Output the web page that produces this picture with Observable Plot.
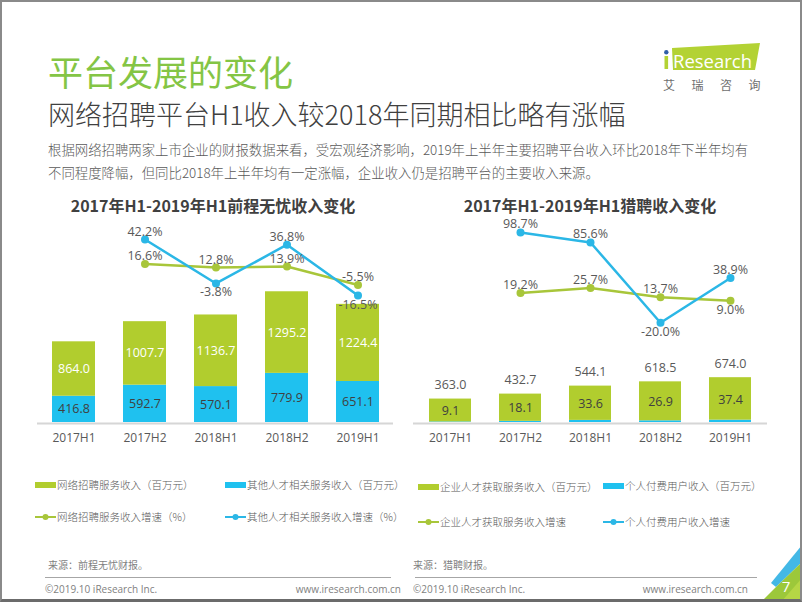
<!DOCTYPE html>
<html><head><meta charset="utf-8">
<script src="https://cdn.jsdelivr.net/npm/d3@7"></script>
<script src="https://cdn.jsdelivr.net/npm/@observablehq/plot@0.6"></script>
<style>
html,body{margin:0;padding:0;background:#fff;overflow:hidden;}
#page{position:relative;width:802px;height:602px;overflow:hidden;font-family:"Noto Sans CJK SC","Open Sans",sans-serif;background:#fff;}
.abs{position:absolute;white-space:nowrap;}
#frame{position:absolute;left:0;top:0;width:802px;height:602px;box-sizing:border-box;border:2px solid #8a8a8a;border-bottom:3px solid #6b6b6b;pointer-events:none;}
.lgt{position:absolute;white-space:nowrap;font-size:10.5px;line-height:12px;color:#595959;font-weight:300;}
.sw{position:absolute;width:21px;height:6px;}
.ft{position:absolute;white-space:nowrap;font-size:10px;line-height:12px;color:#7f7f7f;font-family:"Open Sans","Noto Sans CJK SC",sans-serif;}
</style></head>
<body>
<div id="page">
  <div class="abs" style="left:48px;top:53px;font-size:35px;line-height:35px;color:#84c545;">平台发展的变化</div>
  <div class="abs" style="left:48px;top:100px;font-size:27px;line-height:28px;color:#404040;font-weight:300;">网络招聘平台H1收入较2018年同期相比略有涨幅</div>
  <div class="abs" style="left:48px;top:138px;font-size:13.4px;line-height:23px;color:#595959;font-weight:300;">根据网络招聘两家上市企业的财报数据来看，受宏观经济影响，2019年上半年主要招聘平台收入环比2018年下半年均有<br>不同程度降幅，但同比2018年上半年均有一定涨幅，企业收入仍是招聘平台的主要收入来源。</div>

  <svg class="abs" style="left:640px;top:30px;" width="150" height="70" viewBox="640 30 150 70">
    <polygon points="672,48 760,43 755,70 673,70" fill="#b3d234"/>
    <rect x="664.5" y="56" width="3.6" height="13" fill="#b3d234"/>
    <circle cx="666.3" cy="52.3" r="2.2" fill="#2f5ea8"/>
    <text x="673" y="67.5" font-family="Open Sans" font-size="18.5" fill="#fff">Research</text>
    <text x="663" y="89.5" font-family="Noto Sans CJK SC" font-size="12" fill="#6e6e6e" letter-spacing="16.5">艾瑞咨询</text>
  </svg>

  <div class="abs" style="left:20px;width:386px;top:194px;text-align:center;font-size:16px;line-height:22px;font-weight:bold;color:#404040;">2017年H1-2019年H1前程无忧收入变化</div>
  <div class="abs" style="left:400px;width:380px;top:194px;text-align:center;font-size:16px;line-height:22px;font-weight:bold;color:#404040;">2017年H1-2019年H1猎聘收入变化</div>

  <div id="leftBars" class="abs" style="left:20px;top:215px;"></div>
  <div id="leftLines" class="abs" style="left:20px;top:215px;"></div>
  <div id="rightBars" class="abs" style="left:400px;top:215px;"></div>
  <div id="rightLines" class="abs" style="left:400px;top:215px;"></div>

  <div id="legend"></div>

  <div class="ft" style="left:48px;top:559px;font-family:'Noto Sans CJK SC';">来源：前程无忧财报。</div>
  <div class="ft" style="left:413px;top:559px;font-family:'Noto Sans CJK SC';">来源：猎聘财报。</div>
  <div class="abs" style="left:45px;top:577px;width:346px;height:1px;background:#a6a6a6;"></div>
  <div class="abs" style="left:415px;top:577px;width:342px;height:1px;background:#a6a6a6;"></div>
  <div class="ft" style="left:45px;top:583px;">©2019.10 iResearch Inc.</div>
  <div class="ft" style="left:413px;top:583px;">©2019.10 iResearch Inc.</div>
  <div class="ft" style="left:260px;width:141px;text-align:right;top:583px;">www.iresearch.com.cn</div>
  <div class="ft" style="left:607px;width:141px;text-align:right;top:583px;">www.iresearch.com.cn</div>

  <svg class="abs" style="left:740px;top:530px;" width="62" height="72" viewBox="740 530 62 72">
    <polygon points="771,583 802,545 802,562 776,587" fill="#43b8e6"/>
    <polygon points="761,602 776,587 802,562 802,602" fill="#9cc83a"/>
    <polygon points="781,602 802,578 802,602" fill="#b5d645"/>
    <text x="786" y="592" font-family="Open Sans" font-size="15" fill="#fff" text-anchor="middle">7</text>
  </svg>
  <div id="frame"></div>
</div>
<script>
// ---------- data ----------
const periods = ["2017H1", "2017H2", "2018H1", "2018H2", "2019H1"];
// 前程无忧
const qcwyOnline = [864.0, 1007.7, 1136.7, 1295.2, 1224.4];      // 网络招聘服务收入（百万元）
const qcwyOther = [416.8, 592.7, 570.1, 779.9, 651.1];            // 其他人才相关服务收入（百万元）
const qcwyOnlineGrowth = [null, 16.6, 12.8, 13.9, -5.5];          // 网络招聘服务收入增速（%）
const qcwyOtherGrowth = [null, 42.2, -3.8, 36.8, -16.5];          // 其他人才相关服务收入增速（%）
// 猎聘
const liepinEnterprise = [363.0, 432.7, 544.1, 618.5, 674.0];     // 企业人才获取服务收入（百万元）
const liepinPersonal = [9.1, 18.1, 33.6, 26.9, 37.4];             // 个人付费用户收入（百万元）
const liepinEnterpriseGrowth = [null, 19.2, 25.7, 13.7, 9.0];     // 企业人才获取服务收入增速
const liepinPersonalGrowth = [null, 98.7, 85.6, -20.0, 38.9];     // 个人付费用户收入增速

const legendLeft = ["网络招聘服务收入（百万元）", "其他人才相关服务收入（百万元）", "网络招聘服务收入增速（%）", "其他人才相关服务收入增速（%）"];
const legendRight = ["企业人才获取服务收入（百万元）", "个人付费用户收入（百万元）", "企业人才获取服务收入增速", "个人付费用户收入增速"];

// ---------- style ----------
const GREEN = "#b1cd2e", BLUE = "#1fc1ef";
const LGREEN = "#a8c63a", LBLUE = "#2bb7e6";
const FONT = "'Open Sans','Noto Sans CJK SC',sans-serif";
const W = 380, H = 237;

function barPlot(bottomVals, topVals, bottomName, topName, ml, mr, labelMode) {
  const rows = periods.flatMap((p, i) => [
    {period: p, series: bottomName, value: bottomVals[i]},
    {period: p, series: topName, value: topVals[i]}
  ]);
  const marks = [
    Plot.barY(rows, {x: "period", y: "value", fill: "series"}),
    Plot.ruleY([0], {stroke: "#d6d6d6", strokeWidth: 2, dy: 1}),
    Plot.axisX({tickSize: 0, tickPadding: 11, fontSize: 12, color: "#595959"})
  ];
  if (labelMode === "qcwy") {
    marks.push(Plot.text(periods.map((p, i) => ({period: p, y: bottomVals[i] + topVals[i] / 2, t: topVals[i].toFixed(1)})),
      {x: "period", y: "y", text: "t", fill: "#fff", fontSize: 12.5}));
    marks.push(Plot.text(periods.map((p, i) => ({period: p, y: bottomVals[i] / 2, t: bottomVals[i].toFixed(1)})),
      {x: "period", y: "y", text: "t", fill: "#404040", fontSize: 12.5}));
  } else {
    marks.push(Plot.text(periods.map((p, i) => ({period: p, y: (bottomVals[i] + topVals[i]) / 2, t: bottomVals[i].toFixed(1)})),
      {x: "period", y: "y", text: "t", fill: "#404040", fontSize: 12.5}));
    marks.push(Plot.text(periods.map((p, i) => ({period: p, y: bottomVals[i] + topVals[i], t: topVals[i].toFixed(1)})),
      {x: "period", y: "y", text: "t", fill: "#595959", fontSize: 12.5, dy: -14}));
  }
  return Plot.plot({
    width: W, height: H, marginTop: 18, marginBottom: 30, marginLeft: ml, marginRight: mr,
    style: {fontFamily: FONT, background: "transparent", overflow: "visible"},
    x: {type: "band", domain: periods, paddingInner: 0.395, paddingOuter: 0.2, label: null},
    y: {domain: [0, 3000], axis: null},
    color: {domain: [bottomName, topName], range: [BLUE, GREEN]},
    marks
  });
}

function linePlot(gGreen, gBlue, ml, mr, yDomain, mt, mb) {
  const mk = (vals, other, s) => periods.map((p, i) => ({
    period: p, series: s, v: vals[i],
    below: vals[i] != null && vals[i - 1] != null && vals[i] < other[i] && vals[i] < vals[i - 1]
  })).filter(d => d.v != null);
  const rows = [...mk(gGreen, gBlue, "g"), ...mk(gBlue, gGreen, "b")];
  const lbl = d => d.v.toFixed(1) + "%";
  return Plot.plot({
    width: W, height: H, marginTop: mt, marginBottom: mb, marginLeft: ml, marginRight: mr,
    style: {fontFamily: FONT, background: "transparent", overflow: "visible"},
    x: {type: "band", domain: periods, paddingInner: 0.395, paddingOuter: 0.2, axis: null},
    y: {domain: yDomain, axis: null},
    color: {domain: ["g", "b"], range: [LGREEN, LBLUE]},
    marks: [
      Plot.line(rows, {x: "period", y: "v", z: "series", stroke: "series", strokeWidth: 2.5}),
      Plot.dot(rows, {x: "period", y: "v", fill: "series", r: 4}),
      Plot.text(rows.filter(d => !d.below), {x: "period", y: "v", text: lbl, fill: "#595959", fontSize: 12.5, dy: -8}),
      Plot.text(rows.filter(d => d.below), {x: "period", y: "v", text: lbl, fill: "#595959", fontSize: 12.5, dy: 9})
    ]
  });
}

document.getElementById("leftBars").append(
  barPlot(qcwyOther, qcwyOnline, legendLeft[1], legendLeft[0], 17, 7, "qcwy"));
document.getElementById("leftLines").append(
  linePlot(qcwyOnlineGrowth, qcwyOtherGrowth, 17, 7, [-20, 50], 16.6, 153.6));
document.getElementById("rightBars").append(
  barPlot(liepinPersonal, liepinEnterprise, legendRight[1], legendRight[0], 13, 13, "liepin"));
document.getElementById("rightLines").append(
  linePlot(liepinEnterpriseGrowth, liepinPersonalGrowth, 13, 13, [-30, 110], 8.4, 122.1));

// ---------- legends ----------
const lg = document.getElementById("legend");
function addItem(text, color, x, cy, kind) {
  if (kind === "rect") {
    const s = document.createElement("div");
    s.className = "sw"; s.style.left = x + "px"; s.style.top = (cy - 3) + "px"; s.style.background = color;
    lg.append(s);
  } else {
    const ns = "http://www.w3.org/2000/svg";
    const svg = document.createElementNS(ns, "svg");
    svg.setAttribute("width", 22); svg.setAttribute("height", 8);
    svg.style.position = "absolute"; svg.style.left = x + "px"; svg.style.top = (cy - 4) + "px";
    const l = document.createElementNS(ns, "line");
    l.setAttribute("x1", 0); l.setAttribute("x2", 21); l.setAttribute("y1", 4); l.setAttribute("y2", 4);
    l.setAttribute("stroke", color); l.setAttribute("stroke-width", 2);
    const c = document.createElementNS(ns, "circle");
    c.setAttribute("cx", 10.5); c.setAttribute("cy", 4); c.setAttribute("r", 3); c.setAttribute("fill", color);
    svg.append(l, c); lg.append(svg);
  }
  const t = document.createElement("div");
  t.className = "lgt"; t.textContent = text; t.style.left = (x + 22) + "px"; t.style.top = (cy - 6) + "px";
  lg.append(t);
}
addItem(legendLeft[0], GREEN, 35, 485, "rect");
addItem(legendLeft[1], BLUE, 225, 485, "rect");
addItem(legendLeft[2], LGREEN, 35, 517, "line");
addItem(legendLeft[3], LBLUE, 225, 517, "line");
addItem(legendRight[0], GREEN, 418, 487, "rect");
addItem(legendRight[1], BLUE, 603, 486, "rect");
addItem(legendRight[2], LGREEN, 418, 522, "line");
addItem(legendRight[3], LBLUE, 603, 522, "line");
</script>
</body></html>
